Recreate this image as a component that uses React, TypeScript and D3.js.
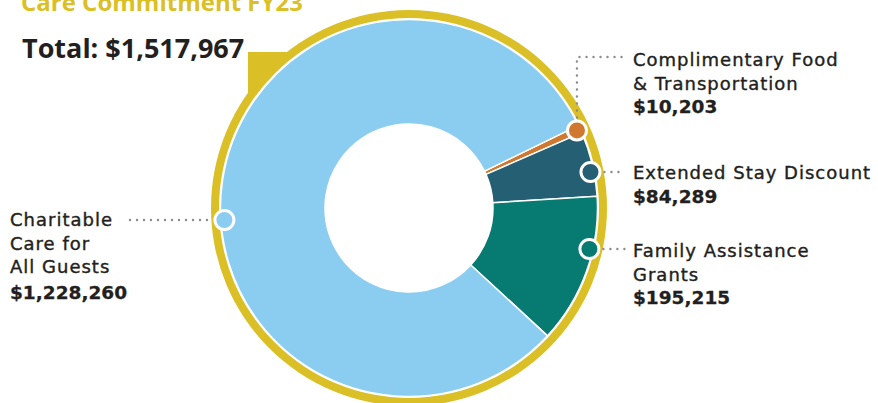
import React from "react";
import * as d3 from "d3";

const categories = [
  "Complimentary Food & Transportation",
  "Extended Stay Discount",
  "Family Assistance Grants",
  "Charitable Care for All Guests",
];
const values = [10203, 84289, 195215, 1228260];
const valueLabels = ["$10,203", "$84,289", "$195,215", "$1,228,260"];
const labelLines = [
  ["Complimentary Food", "& Transportation"],
  ["Extended Stay Discount"],
  ["Family Assistance", "Grants"],
  ["Charitable", "Care for", "All Guests"],
];
const colors = ["#d0782f", "#255f73", "#077a72", "#8bcdf0"];
const titleText = "Care Commitment FY23";
const totalText = "Total: $1,517,967";

const W = 878;
const H = 403;
const cx = 409;
const cy = 208;
const GOLD = "#dbbf26";
const TEXT = "#231f20";
const HEAD_FONT = "'Open Sans', sans-serif";
const LABEL_FONT = "'DejaVu Sans', sans-serif";

// label layout: side, text x, first baseline, leader y
const layout = [
  { side: "right", tx: 633, ty: 66, ly: 57, vertical: true },
  { side: "right", tx: 633, ty: 179, ly: 172, vertical: false },
  { side: "right", tx: 633, ty: 257, ly: 249, vertical: false },
  { side: "left", tx: 10, ty: 226, ly: 220, vertical: false },
];

export default function App() {
  const startDeg = 64;
  const pie = d3
    .pie<number>()
    .sort(null)
    .startAngle((startDeg * Math.PI) / 180)
    .endAngle((startDeg * Math.PI) / 180 + 2 * Math.PI);
  const arcs = pie(values);
  const arc = d3.arc<d3.PieArcDatum<number>>().innerRadius(84).outerRadius(188.5);
  const dotR = 185;
  const lineH = 23.5;

  return (
    <svg
      width={W}
      height={H}
      style={{ position: "absolute", left: 0, top: 0, background: "#fff" }}
    >
      <text x={21} y={11} fill={GOLD} fontSize={24} fontWeight={700} fontFamily={HEAD_FONT}>
        {titleText}
      </text>
      <text x={22} y={58} fill={TEXT} fontSize={27} fontWeight={700} fontFamily={HEAD_FONT}>
        {totalText}
      </text>
      <rect x={248} y={52} width={cx - 248} height={cy - 52} fill={GOLD} />
      <circle cx={cx} cy={cy} r={198} fill={GOLD} />
      <circle cx={cx} cy={cy} r={190} fill="#fff" />
      <g transform={`translate(${cx},${cy})`}>
        {arcs.map((a, i) => (
          <path key={categories[i]} d={arc(a) || ""} fill={colors[i]} stroke="#fff" strokeWidth={1.5} />
        ))}
      </g>
      {layout.map((L, i) => {
        let dx: number;
        let dy: number;
        if (L.vertical) {
          const mid = (arcs[i].startAngle + arcs[i].endAngle) / 2;
          dx = cx + dotR * Math.sin(mid);
          dy = cy - dotR * Math.cos(mid);
        } else {
          const off = L.ly - cy;
          const h = Math.sqrt(dotR * dotR - off * off);
          dx = L.side === "right" ? cx + h : cx - h;
          dy = L.ly;
        }
        const lineEnd = L.side === "right" ? L.tx - 8 : 130;
        const pathD = L.vertical
          ? `M${dx},${dy - 13} L${dx},${L.ly} L${lineEnd},${L.ly}`
          : L.side === "right"
          ? `M${dx + 14},${L.ly} L${lineEnd},${L.ly}`
          : `M${lineEnd},${L.ly} L${dx - 14},${L.ly}`;
        const lines = labelLines[i];
        return (
          <g key={categories[i]} fontFamily={LABEL_FONT}>
            <path
              d={pathD}
              fill="none"
              stroke="#8a8a8c"
              strokeWidth={2.4}
              strokeLinecap="round"
              strokeDasharray="0 7"
            />
            <circle cx={dx} cy={dy} r={9.5} fill={colors[i]} stroke="#fff" strokeWidth={3} />
            {lines.map((t, j) => (
              <text
                key={t}
                x={L.tx}
                y={L.ty + j * lineH}
                fill={TEXT}
                stroke={TEXT}
                strokeWidth={0.4}
                fontSize={18}
                letterSpacing={1}
              >
                {t}
              </text>
            ))}
            <text
              x={L.tx}
              y={L.ty + lines.length * lineH + (lines.length === 3 ? 2 : 0)}
              fill={TEXT}
              stroke={TEXT}
              strokeWidth={0.3}
              fontSize={18.5}
              fontWeight={700}
            >
              {valueLabels[i]}
            </text>
          </g>
        );
      })}
    </svg>
  );
}
